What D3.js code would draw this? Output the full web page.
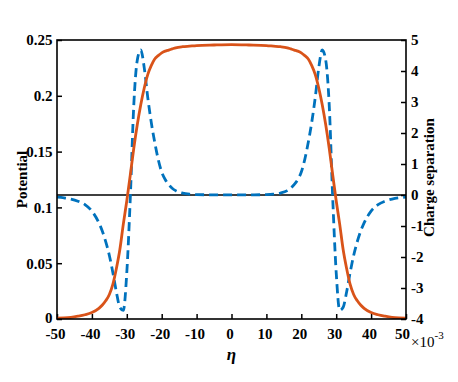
<!DOCTYPE html>
<html lang="en">
<head>
    <meta charset="UTF-8">
    <title>Potential and charge separation</title>
    <script src="https://d3js.org/d3.v7.min.js"></script>
    <style>
        body { margin: 0; background: #fff; }
        text { font-family: "Liberation Serif", "Times New Roman", serif; font-weight: bold; fill: #000; }
        .tick-label { font-size: 15px; }
    </style>
</head>
<body>
    <svg width="458" height="382"></svg>
    <script>
        const width = 458;
        const height = 382;

        // Data
        const eta = [-50, -48, -46, -44, -42, -40, -38, -37, -36, -35, -34, -33, -32, -31, -30, -29, -28, -27, -26, -25,
            -24, -23, -22, -21, -20, -19, -18, -17, -16, -14, -12, -10, -5, 0,
            5, 10, 12, 14, 16, 17, 18, 19, 20, 21, 22, 23, 24, 25, 26, 27, 28, 29, 30, 31, 32, 33, 34, 35, 36, 37,
            38, 40, 42, 44, 46, 48, 50];

        const potential = [0.0008, 0.001, 0.0015, 0.0025, 0.0038, 0.0058, 0.0095, 0.0125, 0.0165, 0.022, 0.031, 0.045,
            0.062, 0.085, 0.106, 0.129, 0.153, 0.174, 0.192, 0.207, 0.219, 0.227, 0.233, 0.236, 0.2385, 0.240, 0.241,
            0.242, 0.243, 0.244, 0.2445, 0.245, 0.2455, 0.2458,
            0.2455, 0.245, 0.2445, 0.244, 0.243, 0.242, 0.241, 0.240, 0.2385, 0.236, 0.233, 0.227, 0.219, 0.207,
            0.192, 0.174, 0.153, 0.129, 0.106, 0.085, 0.062, 0.045, 0.031, 0.022, 0.0165, 0.0125, 0.0095, 0.0058,
            0.0038, 0.0025, 0.0015, 0.001, 0.0008];

        // charge separation in units of 1e-3
        const charge = [-0.07, -0.09, -0.13, -0.2, -0.31, -0.52, -0.9, -1.17, -1.52, -1.95, -2.5, -3.12, -3.62, -3.72,
            -2.5, -0.1, 2.9, 4.35, 4.68, 4.1, 3.15, 2.35, 1.7, 1.15, 0.74, 0.5, 0.34, 0.22, 0.14, 0.06, 0.025, 0.012,
            0.005, 0.004,
            0.005, 0.012, 0.025, 0.06, 0.14, 0.22, 0.34, 0.5, 0.74, 1.15, 1.7, 2.35, 3.15, 4.1, 4.68, 4.35, 2.9,
            -0.1, -2.5, -3.72, -3.62, -3.12, -2.5, -1.95, -1.52, -1.17, -0.9, -0.52, -0.31, -0.2, -0.13, -0.09, -0.07];

        const xTicks = [-50, -40, -30, -20, -10, 0, 10, 20, 30, 40, 50];
        const leftTicks = [0, 0.05, 0.1, 0.15, 0.2, 0.25];
        const rightTicks = [-4, -3, -2, -1, 0, 1, 2, 3, 4, 5];

        const margin = {left: 57, right: 52, top: 40, bottom: 63};
        const x0 = margin.left, x1 = width - margin.right;
        const y0 = height - margin.bottom, y1 = margin.top;

        const svg = d3.select("svg");

        const x = d3.scaleLinear().domain([-50, 50]).range([x0, x1]);
        const yL = d3.scaleLinear().domain([0, 0.25]).range([y0, y1]);
        const yR = d3.scaleLinear().domain([-4, 5]).range([y0, y1]);

        const rows = eta.map((e, i) => ({eta: e, p: potential[i], c: charge[i]}));

        // axes with inward ticks
        const xAxis = svg.append("g")
            .attr("transform", `translate(0,${y0})`)
            .call(d3.axisBottom(x).tickValues(xTicks).tickSize(-5).tickPadding(9.5)
                .tickFormat(d => d));
        const leftAxis = svg.append("g")
            .attr("transform", `translate(${x0},0)`)
            .call(d3.axisLeft(yL).tickValues(leftTicks).tickSize(-5).tickPadding(4.5)
                .tickFormat(d => d));
        const rightAxis = svg.append("g")
            .attr("transform", `translate(${x1},0)`)
            .call(d3.axisRight(yR).tickValues(rightTicks).tickSize(-5).tickPadding(5)
                .tickFormat(d => d));

        [xAxis, leftAxis, rightAxis].forEach(g => {
            g.select(".domain").remove();
            g.selectAll(".tick line").attr("stroke", "#000").attr("stroke-width", 1.5);
            g.selectAll(".tick text").attr("class", "tick-label").attr("font-family", null).attr("font-size", null);
        });
        xAxis.selectAll(".tick text").attr("dx", d => d === 50 ? -4 : -2);
        // keep the lowest left label clear of the first x label
        leftAxis.selectAll(".tick text").filter(d => d === 0).attr("dy", "0.22em");

        // zero line of the right axis
        svg.append("line")
            .attr("x1", x0).attr("x2", x1)
            .attr("y1", yR(0)).attr("y2", yR(0))
            .attr("stroke", "#000").attr("stroke-width", 1.3);

        svg.append("clipPath").attr("id", "plot")
            .append("rect").attr("x", x0).attr("y", y1).attr("width", x1 - x0).attr("height", y0 - y1);

        svg.append("path")
            .datum(rows)
            .attr("clip-path", "url(#plot)")
            .attr("fill", "none")
            .attr("stroke", "#0072BD")
            .attr("stroke-width", 2.8)
            .attr("stroke-dasharray", "9,5")
            .attr("d", d3.line().x(d => x(d.eta)).y(d => yR(d.c)).curve(d3.curveMonotoneX));

        svg.append("path")
            .datum(rows)
            .attr("clip-path", "url(#plot)")
            .attr("fill", "none")
            .attr("stroke", "#D95319")
            .attr("stroke-width", 2.8)
            .attr("d", d3.line().x(d => x(d.eta)).y(d => yL(d.p)).curve(d3.curveMonotoneX));

        // box
        svg.append("rect")
            .attr("x", x0).attr("y", y1)
            .attr("width", x1 - x0).attr("height", y0 - y1)
            .attr("fill", "none").attr("stroke", "#000").attr("stroke-width", 1.6);

        // labels
        svg.append("text")
            .attr("transform", `translate(27,${(y0 + y1) / 2}) rotate(-90)`)
            .attr("text-anchor", "middle")
            .style("font-size", "15px")
            .text("Potential");

        svg.append("text")
            .attr("transform", `translate(434,${(y0 + y1) / 2 - 2}) rotate(-90)`)
            .attr("text-anchor", "middle")
            .style("font-size", "15px")
            .text("Charge separation");

        svg.append("text")
            .attr("x", (x0 + x1) / 2)
            .attr("y", 360)
            .attr("text-anchor", "middle")
            .style("font-size", "17px")
            .style("font-style", "italic")
            .text("η");

        const exp = svg.append("text")
            .attr("x", 411)
            .attr("y", 347)
            .style("font-size", "15px")
            .style("font-weight", "normal");
        exp.append("tspan").text("×10");
        exp.append("tspan").attr("dy", -8).style("font-size", "11px").text("-3");
    </script>
</body>
</html>
